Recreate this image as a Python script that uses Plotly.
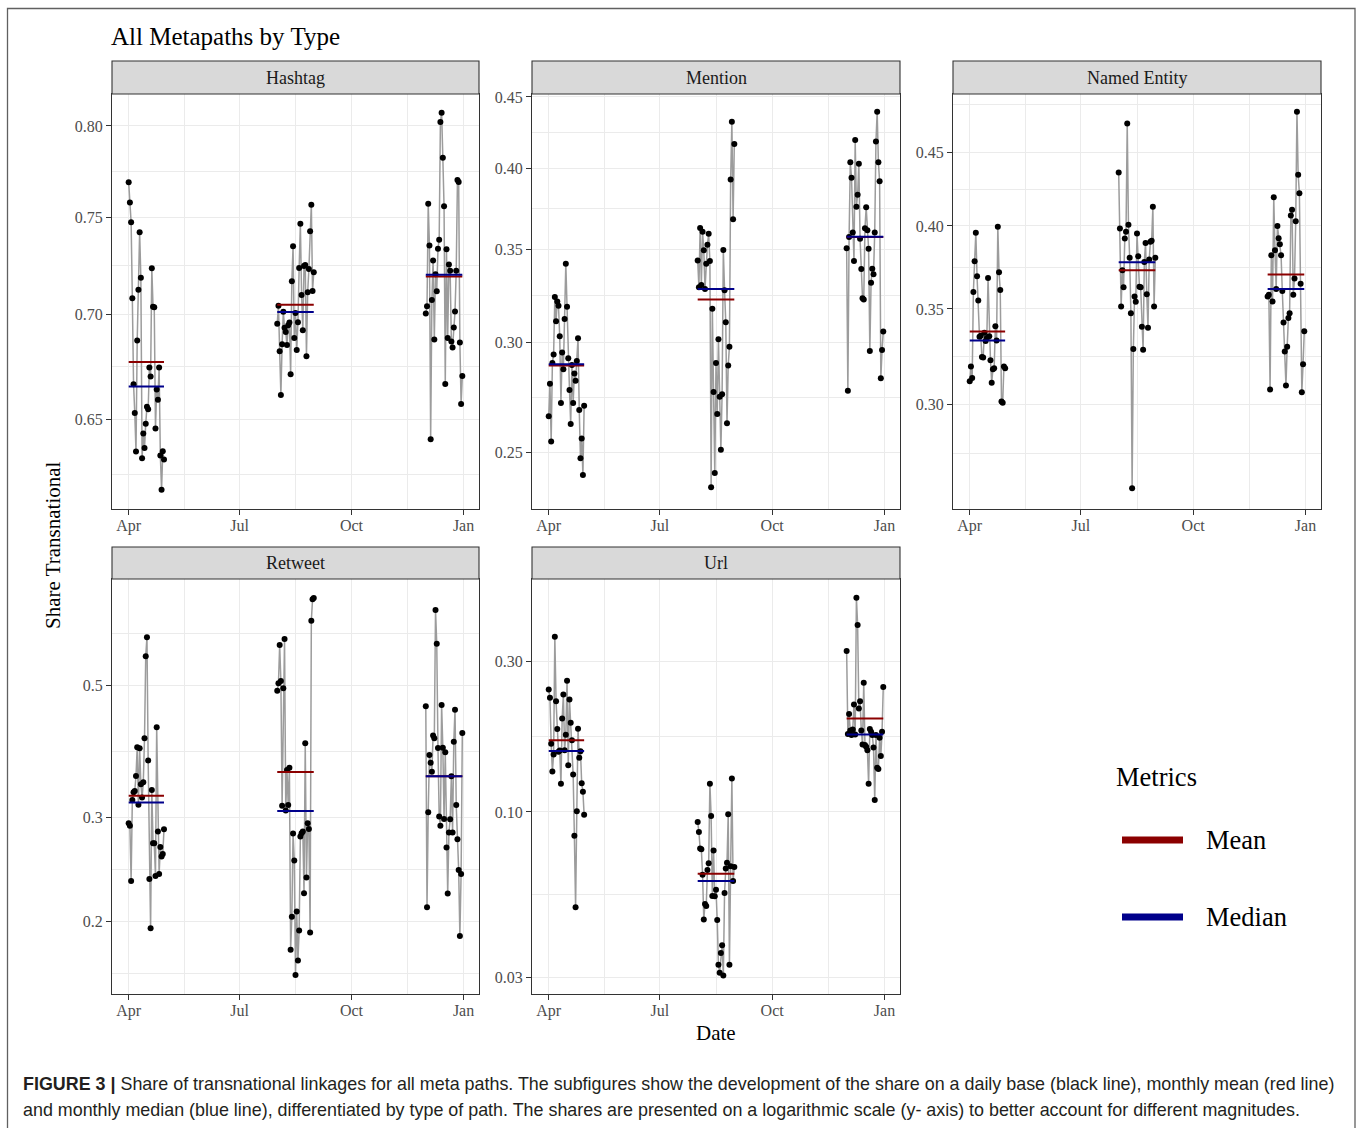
import pandas as pd
import plotly.graph_objects as go

W, H = 1358, 1128

# ---------------- data ----------------
panels = ["Hashtag", "Mention", "Named Entity", "Retweet", "Url"]
month_starts = ["2017-04-01", "2017-08-01", "2017-12-01"]
month_ends = ["2017-04-30", "2017-08-31", "2017-12-31"]

hashtag_apr = [0.7687, 0.7578, 0.7473, 0.7081, 0.6663, 0.6529, 0.6353, 0.6873, 0.7124, 0.7420,
               0.7185, 0.6323, 0.6435, 0.6369, 0.6479, 0.6557, 0.6546, 0.6742, 0.6699, 0.7233,
               0.7039, 0.7036, 0.6457, 0.6638, 0.6590, 0.6742, 0.6335, 0.6183, 0.6354, 0.6317]
hashtag_aug = [0.6955, 0.7044, 0.6820, 0.6612, 0.6854, 0.7014, 0.6935, 0.6914, 0.6850, 0.6947,
               0.6960, 0.6710, 0.7167, 0.7346, 0.6885, 0.7007, 0.6826, 0.6962, 0.7235, 0.7464,
               0.7097, 0.6922, 0.7245, 0.7250, 0.6796, 0.7111, 0.7229, 0.7425, 0.7566, 0.7118, 0.7213]
hashtag_dec = [0.7005, 0.7041, 0.7571, 0.7350, 0.6408, 0.7072, 0.7273, 0.6877, 0.7203, 0.7116,
               0.7334, 0.7381, 0.8022, 0.8075, 0.7822, 0.7557, 0.6664, 0.7331, 0.6884, 0.7252,
               0.7220, 0.6868, 0.6839, 0.6936, 0.7015, 0.7220, 0.7700, 0.7689, 0.6863, 0.6570, 0.6702]
hashtag_mean = [0.6769, 0.7049, 0.7191]
hashtag_median = [0.6652, 0.7012, 0.7200]

mention_apr = [0.2655, 0.2802, 0.2547, 0.2900, 0.2940, 0.3234, 0.3107, 0.3209, 0.3187, 0.3030,
               0.2714, 0.2950, 0.2870, 0.3118, 0.3416, 0.3182, 0.2923, 0.2773, 0.2622, 0.2890,
               0.2714, 0.2850, 0.2816, 0.2909, 0.3021, 0.2683, 0.2477, 0.2560, 0.2410, 0.2702]
mention_aug = [0.3434, 0.3286, 0.3624, 0.3298, 0.3601, 0.3493, 0.3277, 0.3416, 0.3525, 0.3589,
               0.3432, 0.2362, 0.3171, 0.2764, 0.2418, 0.2899, 0.2665, 0.3016, 0.2742, 0.2513,
               0.2754, 0.3495, 0.3270, 0.3102, 0.2625, 0.2888, 0.2979, 0.3926, 0.4319, 0.3676, 0.4163]
mention_dec = [0.3504, 0.2770, 0.3570, 0.4040, 0.3938, 0.3597, 0.3432, 0.4191, 0.3754, 0.3829,
               0.4030, 0.3560, 0.3386, 0.3227, 0.3220, 0.3622, 0.3750, 0.3610, 0.3502, 0.2958,
               0.3311, 0.3388, 0.3357, 0.3597, 0.4181, 0.4391, 0.4040, 0.3915, 0.2828, 0.2962, 0.3054]
mention_mean = [0.2888, 0.3220, 0.3570]
mention_median = [0.2894, 0.3277, 0.3572]

entity_apr = [0.3115, 0.3190, 0.3132, 0.3596, 0.3779, 0.3956, 0.3689, 0.3548, 0.3347, 0.3352,
              0.3239, 0.3237, 0.3369, 0.3324, 0.3340, 0.3679, 0.3350, 0.3223, 0.3108, 0.3176,
              0.3181, 0.3404, 0.3326, 0.3994, 0.3713, 0.3608, 0.3016, 0.3010, 0.3190, 0.3181]
entity_aug = [0.4359, 0.3984, 0.3514, 0.3725, 0.3624, 0.3920, 0.3962, 0.4716, 0.4007, 0.3801,
              0.3476, 0.2623, 0.3282, 0.3570, 0.3540, 0.3952, 0.3809, 0.3627, 0.3624, 0.3401,
              0.3277, 0.3775, 0.3892, 0.3584, 0.3395, 0.3789, 0.3900, 0.3906, 0.4125, 0.3514, 0.3801]
entity_dec = [0.3570, 0.3580, 0.3075, 0.3815, 0.3542, 0.4189, 0.3847, 0.3614, 0.4000, 0.3922,
              0.3884, 0.3815, 0.3602, 0.3425, 0.3268, 0.3094, 0.3294, 0.3449, 0.3476, 0.4068,
              0.4105, 0.3580, 0.3675, 0.4030, 0.4807, 0.4343, 0.4216, 0.3645, 0.3061, 0.3202, 0.3376]
entity_mean = [0.3375, 0.3725, 0.3699]
entity_median = [0.3326, 0.3773, 0.3614]

retweet_apr = [0.2929, 0.2902, 0.2342, 0.3206, 0.3303, 0.3320, 0.3518, 0.3931, 0.3148, 0.3917,
               0.3407, 0.3235, 0.3434, 0.4072, 0.5594, 0.6022, 0.3737, 0.2360, 0.1950, 0.3333,
               0.2710, 0.2710, 0.2388, 0.4249, 0.2836, 0.2406, 0.2672, 0.2574, 0.2600, 0.2861]
retweet_aug = [0.4897, 0.5039, 0.5846, 0.5085, 0.3136, 0.4942, 0.5983, 0.3076, 0.3601, 0.3144,
               0.3633, 0.1793, 0.2039, 0.2814, 0.2535, 0.1627, 0.2080, 0.1720, 0.1932, 0.2781,
               0.2817, 0.2836, 0.2233, 0.3994, 0.2373, 0.2929, 0.2865, 0.1917, 0.6425, 0.6978, 0.7013]
retweet_dec = [0.4609, 0.2115, 0.3056, 0.3817, 0.3705, 0.3578, 0.4118, 0.4072, 0.6697, 0.5876,
               0.3922, 0.3006, 0.2902, 0.4633, 0.3925, 0.2979, 0.3857, 0.2665, 0.2230, 0.2825,
               0.2975, 0.3513, 0.2825, 0.4019, 0.4550, 0.3144, 0.2753, 0.2444, 0.1892, 0.2406, 0.4156]
retweet_mean = [0.3257, 0.3573, 0.3515]
retweet_median = [0.3173, 0.3072, 0.3515]

url_apr = [0.2441, 0.2297, 0.1642, 0.1342, 0.1520, 0.3582, 0.2241, 0.1828, 0.1549, 0.1564,
           0.1227, 0.1975, 0.2353, 0.1568, 0.1754, 0.2600, 0.1406, 0.2269, 0.1914, 0.1687,
           0.1313, 0.0841, 0.0500, 0.1006, 0.1832, 0.1483, 0.1557, 0.1233, 0.1158, 0.0979]
url_aug = [0.0930, 0.0864, 0.0766, 0.0762, 0.0633, 0.0457, 0.0512, 0.0504, 0.0655, 0.0688,
           0.1229, 0.0971, 0.0542, 0.0756, 0.0541, 0.0568, 0.0455, 0.0329, 0.0310, 0.0358,
           0.0379, 0.0304, 0.0554, 0.0662, 0.0691, 0.0983, 0.0329, 0.0673, 0.1275, 0.0605, 0.0670]
url_dec = [0.3227, 0.1763, 0.2039, 0.1810, 0.1750, 0.1823, 0.2188, 0.1758, 0.4759, 0.3899,
           0.2125, 0.2241, 0.1810, 0.1635, 0.2562, 0.1629, 0.1607, 0.1568, 0.1227, 0.1828,
           0.1793, 0.1750, 0.1599, 0.1090, 0.1750, 0.1379, 0.1366, 0.1716, 0.1502, 0.1793, 0.2482]
url_mean = [0.1687, 0.0638, 0.1975]
url_median = [0.1560, 0.0605, 0.1758]

# y-axis ticks (labels) per panel
hashtag_ticks = [0.65, 0.70, 0.75, 0.80]
hashtag_ticklabels = ["0.65", "0.70", "0.75", "0.80"]
mention_ticks = [0.25, 0.30, 0.35, 0.40, 0.45]
mention_ticklabels = ["0.25", "0.30", "0.35", "0.40", "0.45"]
entity_ticks = [0.30, 0.35, 0.40, 0.45]
entity_ticklabels = ["0.30", "0.35", "0.40", "0.45"]
retweet_ticks = [0.2, 0.3, 0.5]
retweet_ticklabels = ["0.2", "0.3", "0.5"]
url_ticks = [0.03, 0.10, 0.30]
url_ticklabels = ["0.03", "0.10", "0.30"]

x_ticks = ["2017-04-01", "2017-07-01", "2017-10-01", "2018-01-01"]
x_ticklabels = ["Apr", "Jul", "Oct", "Jan"]

# ---------------- assembly ----------------
series = {
    "Hashtag": [hashtag_apr, hashtag_aug, hashtag_dec],
    "Mention": [mention_apr, mention_aug, mention_dec],
    "Named Entity": [entity_apr, entity_aug, entity_dec],
    "Retweet": [retweet_apr, retweet_aug, retweet_dec],
    "Url": [url_apr, url_aug, url_dec],
}
means = {"Hashtag": hashtag_mean, "Mention": mention_mean, "Named Entity": entity_mean,
         "Retweet": retweet_mean, "Url": url_mean}
medians = {"Hashtag": hashtag_median, "Mention": mention_median, "Named Entity": entity_median,
           "Retweet": retweet_median, "Url": url_median}
yticks = {"Hashtag": (hashtag_ticks, hashtag_ticklabels), "Mention": (mention_ticks, mention_ticklabels),
          "Named Entity": (entity_ticks, entity_ticklabels), "Retweet": (retweet_ticks, retweet_ticklabels),
          "Url": (url_ticks, url_ticklabels)}

# layout geometry (pixels)
col_px = [(112, 479), (532, 900), (953, 1321)]
row_px = [(94, 509), (579, 994)]
strip_px = [(61, 94), (547, 579)]
y_ranges = {"Hashtag": [-0.2147, -0.0871], "Mention": [-0.6424, -0.3447],
            "Named Entity": [-0.5957, -0.3058], "Retweet": [-0.8208, -0.1220],
            "Url": [-1.5756, -0.2634]}
y_minor = {"Hashtag": [0.625, 0.6745, 0.7246, 0.7746],
           "Mention": [0.2739, 0.3240, 0.3742, 0.4243],
           "Named Entity": [0.2772, 0.3240, 0.3742, 0.4243, 0.4864],
           "Retweet": [0.1633, 0.2449, 0.3873, 0.612],
           "Url": [0.05477, 0.1732]}
x_range = ["2017-03-18 07:12", "2018-01-13 16:48"]
x_minor = ["2017-05-16 12:00", "2017-08-16", "2017-11-16"]


def px(x):
    return x / W


def py(y):
    return 1 - y / H


SERIF = "Liberation Serif, Times New Roman, serif"
TICKFONT = dict(family=SERIF, size=16, color="#4D4D4D")
GRID = "#EBEBEB"
DARK = "#333333"
MEAN_C = "#8B0000"
MED_C = "#00008B"

fig = go.Figure()
layout_axes = {}
shapes = []
annotations = []

for i, name in enumerate(panels):
    r, c = divmod(i, 3)
    sfx = "" if i == 0 else str(i + 1)
    xa, ya = "x" + sfx, "y" + sfx
    for m, vals in enumerate(series[name]):
        dates = pd.date_range(month_starts[m], periods=len(vals), freq="D")
        fig.add_trace(go.Scatter(
            x=dates, y=vals, mode="lines+markers",
            line=dict(color="#9C9C9C", width=1.5),
            marker=dict(color="black", size=6),
            xaxis=xa, yaxis=ya, showlegend=False, hoverinfo="skip"))
    for m in range(3):
        fig.add_trace(go.Scatter(
            x=[month_starts[m], month_ends[m]], y=[means[name][m]] * 2, mode="lines",
            line=dict(color=MEAN_C, width=2), xaxis=xa, yaxis=ya,
            showlegend=False, hoverinfo="skip"))
    for m in range(3):
        fig.add_trace(go.Scatter(
            x=[month_starts[m], month_ends[m]], y=[medians[name][m]] * 2, mode="lines",
            line=dict(color=MED_C, width=2), xaxis=xa, yaxis=ya,
            showlegend=False, hoverinfo="skip"))

    x0, x1 = col_px[c]
    y0, y1 = row_px[r]
    layout_axes["xaxis" + sfx] = dict(
        domain=[px(x0), px(x1)], anchor=ya, type="date", range=x_range,
        tickmode="array", tickvals=x_ticks, ticktext=x_ticklabels, automargin=False,
        showgrid=True, gridcolor=GRID, gridwidth=1.1, zeroline=False,
        showline=True, mirror=True, linecolor=DARK, linewidth=1.1,
        ticks="outside", ticklen=5, tickwidth=1.1, tickcolor=DARK,
        tickfont=TICKFONT, ticklabelstandoff=-3,
        minor=dict(tickmode="array", tickvals=x_minor, showgrid=True,
                   gridcolor=GRID, gridwidth=0.6, ticks=""),
    )
    tv, tt = yticks[name]
    layout_axes["yaxis" + sfx] = dict(
        domain=[py(y1), py(y0)], anchor=xa, type="log", range=y_ranges[name],
        tickmode="array", tickvals=tv, ticktext=tt, automargin=False,
        showgrid=True, gridcolor=GRID, gridwidth=1.1, zeroline=False,
        showline=True, mirror=True, linecolor=DARK, linewidth=1.1,
        ticks="outside", ticklen=5, tickwidth=1.1, tickcolor=DARK,
        tickfont=TICKFONT,
        minor=dict(tickmode="array", tickvals=y_minor[name], showgrid=True,
                   gridcolor=GRID, gridwidth=0.6, ticks=""),
    )
    # strip
    s0, s1 = strip_px[r]
    shapes.append(dict(type="rect", xref="paper", yref="paper",
                       x0=px(x0), x1=px(x1), y0=py(s1), y1=py(s0),
                       fillcolor="#D9D9D9", line=dict(color=DARK, width=1.1), layer="above"))
    annotations.append(dict(text=name, xref="paper", yref="paper",
                            x=px((x0 + x1) / 2), y=py((s0 + s1) / 2),
                            xanchor="center", yanchor="middle", showarrow=False,
                            font=dict(family=SERIF, size=18, color="#1A1A1A")))

# outer figure border
shapes.append(dict(type="rect", xref="paper", yref="paper",
                   x0=px(7.5), x1=px(1355), y0=py(1140), y1=py(8.5),
                   fillcolor="rgba(0,0,0,0)", line=dict(color="#606060", width=1.3)))

# legend (drawn manually)
shapes.append(dict(type="line", xref="paper", yref="paper", x0=px(1122), x1=px(1183),
                   y0=py(840), y1=py(840), line=dict(color=MEAN_C, width=7)))
shapes.append(dict(type="line", xref="paper", yref="paper", x0=px(1122), x1=px(1183),
                   y0=py(917), y1=py(917), line=dict(color=MED_C, width=7)))
for txt, xx, yy in [("Metrics", 1114, 777), ("Mean", 1204, 840), ("Median", 1204, 917)]:
    annotations.append(dict(text=txt, xref="paper", yref="paper", x=px(xx), y=py(yy),
                            xanchor="left", yanchor="middle", showarrow=False,
                            font=dict(family=SERIF, size=26.5, color="black")))

# titles
annotations.append(dict(text="All Metapaths by Type", xref="paper", yref="paper",
                        x=px(109), y=py(37), xanchor="left", yanchor="middle", showarrow=False,
                        font=dict(family=SERIF, size=25, color="black")))
annotations.append(dict(text="Share Transnational", xref="paper", yref="paper",
                        x=px(53), y=py(545), xanchor="center", yanchor="middle", showarrow=False,
                        textangle=-90, font=dict(family=SERIF, size=21, color="black")))
annotations.append(dict(text="Date", xref="paper", yref="paper",
                        x=px(716), y=py(1033), xanchor="center", yanchor="middle", showarrow=False,
                        font=dict(family=SERIF, size=21, color="black")))

# caption
CAP = dict(family="Liberation Sans, Arial, sans-serif", size=17.9, color="#231F20")
annotations.append(dict(
    text="<b>FIGURE 3 |</b> Share of transnational linkages for all meta paths. The subfigures show the "
         "development of the share on a daily base (black line), monthly mean (red line)",
    xref="paper", yref="paper", x=px(21), y=py(1084), xanchor="left", yanchor="middle",
    showarrow=False, font=CAP))
annotations.append(dict(
    text="and monthly median (blue line), differentiated by type of path. The shares are presented on a "
         "logarithmic scale (y- axis) to better account for different magnitudes.",
    xref="paper", yref="paper", x=px(21), y=py(1110), xanchor="left", yanchor="middle",
    showarrow=False, font=CAP))

fig.update_layout(
    template="none",
    width=W, height=H, margin=dict(l=0, r=0, t=0, b=0, pad=0, autoexpand=False),
    paper_bgcolor="white", plot_bgcolor="white",
    showlegend=False, shapes=shapes, annotations=annotations,
    **layout_axes,
)

fig.write_html("out.html", config={"displayModeBar": False},
               post_script="document.body.style.margin='0px';")
